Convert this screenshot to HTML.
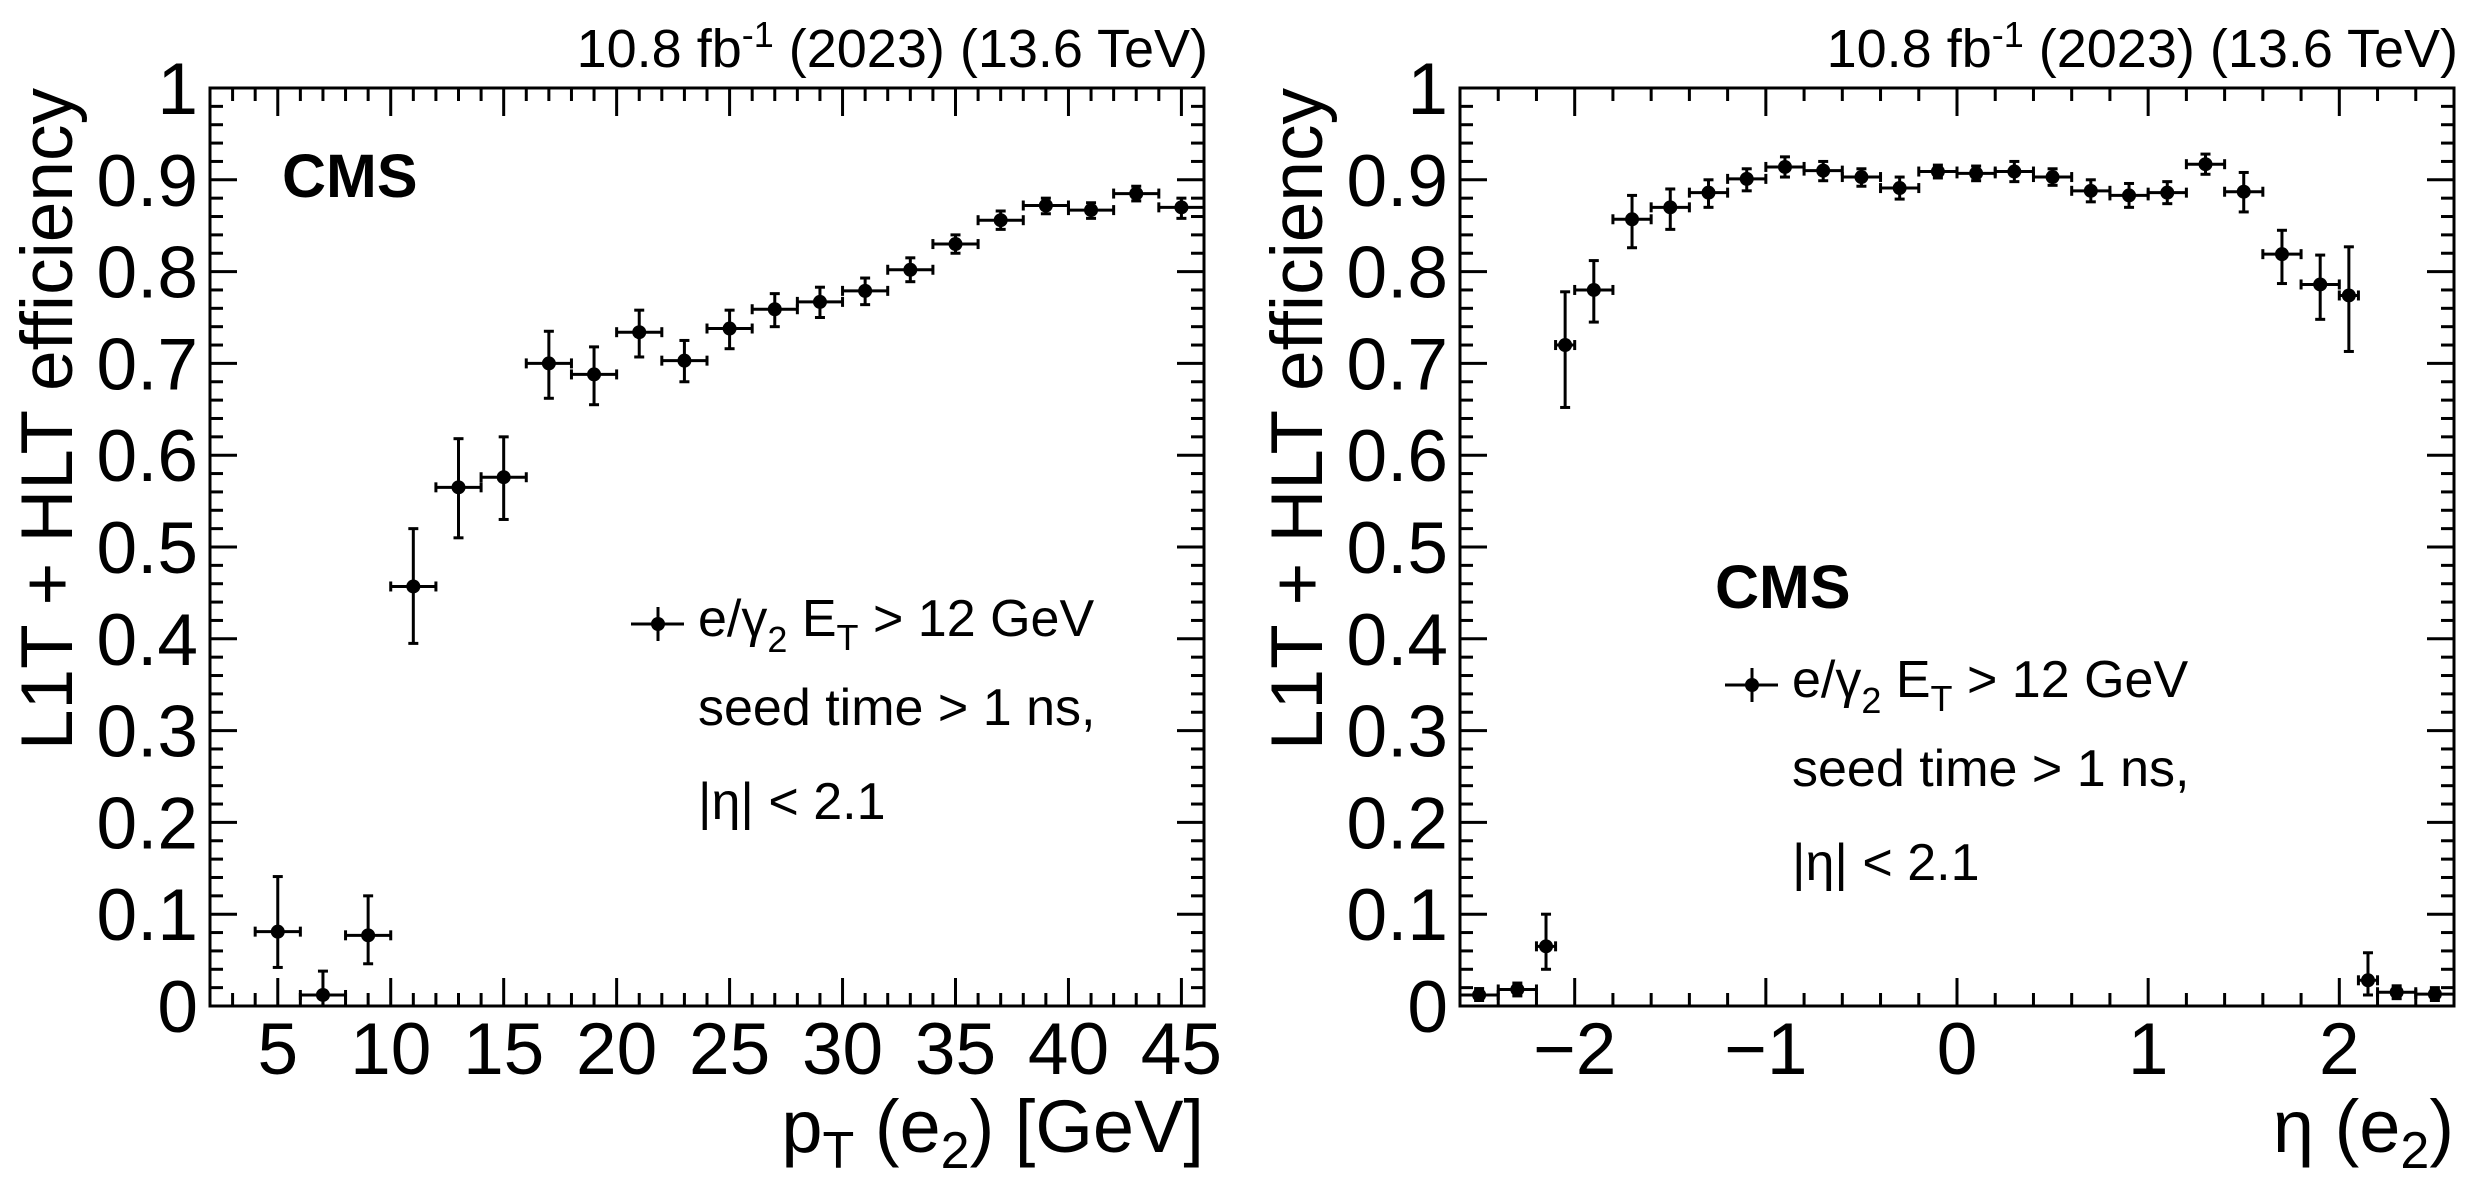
<!DOCTYPE html>
<html><head><meta charset="utf-8">
<style>
html,body{margin:0;padding:0;background:#fff;}
svg{display:block;font-family:"Liberation Sans",Arial,sans-serif;}
</style></head>
<body>
<svg id="fig" width="2486" height="1191" viewBox="0 0 2486 1191" xmlns="http://www.w3.org/2000/svg"></svg>
<script>
// ---- data: left panel (pT) ----
const ptCenters = [5,7,9,11,13,15,17,19,21,23,25,27,29,31,33,35,37,39,41,43,45];
const ptEff     = [0.081,0.012,0.077,0.457,0.565,0.576,0.700,0.688,0.734,0.703,0.738,0.759,0.767,0.779,0.802,0.830,0.856,0.872,0.867,0.885,0.870];
const ptErrUp   = [0.141,0.038,0.120,0.520,0.618,0.620,0.735,0.718,0.758,0.725,0.758,0.776,0.783,0.793,0.815,0.840,0.866,0.880,0.875,0.893,0.880];
const ptErrLo   = [0.042,0.000,0.046,0.395,0.510,0.530,0.662,0.655,0.707,0.680,0.716,0.740,0.750,0.764,0.789,0.820,0.846,0.863,0.858,0.877,0.858];
const ptBinLo   = [4,6,8,10,12,14,16,18,20,22,24,26,28,30,32,34,36,38,40,42,44];
const ptBinHi   = [6,8,10,12,14,16,18,20,22,24,26,28,30,32,34,36,38,40,42,44,46];
const ptTicks   = [5,10,15,20,25,30,35,40,45];
// ---- data: right panel (eta) ----
const etaCenters = [-2.5,-2.3,-2.15,-2.05,-1.9,-1.7,-1.5,-1.3,-1.1,-0.9,-0.7,-0.5,-0.3,-0.1,0.1,0.3,0.5,0.7,0.9,1.1,1.3,1.5,1.7,1.9,2.05,2.15,2.3,2.5];
const etaEff     = [0.012,0.018,0.065,0.720,0.780,0.857,0.870,0.886,0.901,0.914,0.910,0.903,0.891,0.909,0.907,0.909,0.903,0.888,0.883,0.886,0.917,0.887,0.819,0.786,0.774,0.028,0.015,0.013];
const etaErrUp   = [0.019,0.025,0.100,0.778,0.812,0.883,0.890,0.900,0.912,0.925,0.920,0.912,0.903,0.916,0.915,0.920,0.912,0.900,0.896,0.898,0.928,0.908,0.845,0.818,0.827,0.058,0.022,0.020];
const etaErrLo   = [0.006,0.011,0.040,0.652,0.745,0.826,0.846,0.870,0.888,0.903,0.899,0.893,0.879,0.902,0.899,0.898,0.894,0.876,0.870,0.874,0.906,0.865,0.787,0.748,0.713,0.012,0.008,0.006];
const etaBinLo   = [-2.6,-2.4,-2.2,-2.1,-2.0,-1.8,-1.6,-1.4,-1.2,-1.0,-0.8,-0.6,-0.4,-0.2,0.0,0.2,0.4,0.6,0.8,1.0,1.2,1.4,1.6,1.8,2.0,2.1,2.2,2.4];
const etaBinHi   = [-2.4,-2.2,-2.1,-2.0,-1.8,-1.6,-1.4,-1.2,-1.0,-0.8,-0.6,-0.4,-0.2,0.0,0.2,0.4,0.6,0.8,1.0,1.2,1.4,1.6,1.8,2.0,2.1,2.2,2.4,2.6];
const etaTicks   = [-2,-1,0,1,2];
const etaTickLabels = ["\u22122","\u22121","0","1","2"];
const yTicks = [0,0.1,0.2,0.3,0.4,0.5,0.6,0.7,0.8,0.9,1];
const yTickLabels = ["0","0.1","0.2","0.3","0.4","0.5","0.6","0.7","0.8","0.9","1"];

const NS="http://www.w3.org/2000/svg";
const svg=document.getElementById('fig');
function mk(tag,attrs,parent){const e=document.createElementNS(NS,tag);for(const k in attrs)e.setAttribute(k,attrs[k]);(parent||svg).appendChild(e);return e;}
function line(g,x1,y1,x2,y2,w){return mk('line',{x1:x1,y1:y1,x2:x2,y2:y2,stroke:'#000','stroke-width':w||3},g);}

function panel(opt){
  const g=mk('g',{});
  
  
  const L=opt.L,R=opt.R,T=88,B=1006;
  const sx=v=>L+(v-opt.xmin)/(opt.xmax-opt.xmin)*(R-L);
  const sy=v=>B-v*(B-T);
  const fr=mk('rect',{x:L,y:T,width:R-L,height:B-T,fill:'none',stroke:'#000','stroke-width':3},g);
  
  
  for(let i=0;i<=50;i++){const v=i*0.02;const y=sy(v);const maj=(i%5===0);const len=maj?27:13;
    line(g,L,y,L+len,y,3);line(g,R,y,R-len,y,3);}
  for(let v=opt.xminorStart;v<=opt.xmax+1e-9;v+=opt.minorStep){
    const maj=Math.abs(v/opt.majorStep-Math.round(v/opt.majorStep))<1e-6;const len=maj?28:13;const x=sx(v);
    line(g,x,B,x,B-len,3);line(g,x,T,x,T+len,3);}
  for(let i=0;i<yTicks.length;i++){
    const t=mk('text',{x:L-12,y:sy(yTicks[i])+26,'font-size':73,'text-anchor':'end'},g);
    t.textContent=yTickLabels[i];
    
    
  }
  for(let i=0;i<opt.xticks.length;i++){
    const t=mk('text',{x:sx(opt.xticks[i]),y:1074,'font-size':73,'text-anchor':'middle'},g);
    t.textContent=opt.xtickLabels[i];
    
    
  }
  const dg=mk('g',{},g);
  
  
  for(let i=0;i<opt.c.length;i++){
    const x=sx(opt.c[i]),y=sy(opt.v[i]);
    const pg=mk('g',{},dg);
    
    
    const xl=sx(opt.lo[i]),xh=sx(opt.hi[i]),yu=sy(opt.up[i]),yd=sy(opt.dn[i]);
    line(pg,xl,y,xh,y,3);
    line(pg,x,yu,x,yd,3);
    line(pg,xl,y-5,xl,y+5,3);line(pg,xh,y-5,xh,y+5,3);
    line(pg,x-5,yu,x+5,yu,3);line(pg,x-5,yd,x+5,yd,3);
    mk('circle',{cx:x,cy:y,r:7,fill:'#000'},pg);
  }
  const h=mk('text',{x:R+4,y:67,'font-size':54,'text-anchor':'end'},g);
  h.innerHTML='10.8 fb<tspan font-size="36" dy="-20">-1</tspan><tspan dy="20"> (2023) (13.6 TeV)</tspan>';
  
  
  const yt=mk('text',{x:0,y:0,'font-size':73,'text-anchor':'end',transform:`translate(${L-138},${T}) rotate(-90)`},g);
  yt.textContent='L1T + HLT efficiency';
  
  
  const xt=mk('text',{x:R,y:1152,'font-size':74,'text-anchor':'end'},g);
  xt.innerHTML=opt.xtitle;
  
  
  const c=mk('text',{x:opt.cmsX,y:opt.cmsY,'font-size':61,'font-weight':'bold'},g);
  c.textContent='CMS';
  
  
  const lg=mk('g',{},g);
  
  
  const mx=opt.legX,my=opt.legY;
  line(lg,mx-27,my,mx+26,my,3);line(lg,mx,my-17,mx,my+17,3);
  mk('circle',{cx:mx,cy:my,r:7,fill:'#000'},lg);
  const t1=mk('text',{x:mx+40,y:my+12,'font-size':52},lg);
  t1.innerHTML='e/\u03b3<tspan font-size="36" dy="16">2</tspan><tspan dy="-16"> E</tspan><tspan font-size="36" dy="14">T</tspan><tspan dy="-14"> &gt; 12 GeV</tspan>';
  const t2=mk('text',{x:mx+40,y:my+101,'font-size':52},lg);t2.textContent='seed time > 1 ns,';
  const t3=mk('text',{x:mx+40,y:my+195,'font-size':52},lg);t3.textContent='|\u03b7| < 2.1';
}

panel({name:'pt-efficiency-panel',L:210,R:1204,xmin:2,xmax:46,xminorStart:2,minorStep:1,majorStep:5,
  xticks:ptTicks,xtickLabels:ptTicks.map(String),c:ptCenters,v:ptEff,up:ptErrUp,dn:ptErrLo,lo:ptBinLo,hi:ptBinHi,
  xtitle:'p<tspan font-size="52" dy="16">T</tspan><tspan dy="-16"> (e</tspan><tspan font-size="52" dy="16">2</tspan><tspan dy="-16">) [GeV]</tspan>',
  cmsX:282,cmsY:197,legX:658,legY:624});
panel({name:'eta-efficiency-panel',L:1460,R:2454,xmin:-2.6,xmax:2.6,xminorStart:-2.6,minorStep:0.2,majorStep:1,
  xticks:etaTicks,xtickLabels:etaTickLabels,c:etaCenters,v:etaEff,up:etaErrUp,dn:etaErrLo,lo:etaBinLo,hi:etaBinHi,
  xtitle:'\u03b7 (e<tspan font-size="52" dy="16">2</tspan><tspan dy="-16">)</tspan>',
  cmsX:1715,cmsY:608,legX:1752,legY:685});
</script>
</body></html>
